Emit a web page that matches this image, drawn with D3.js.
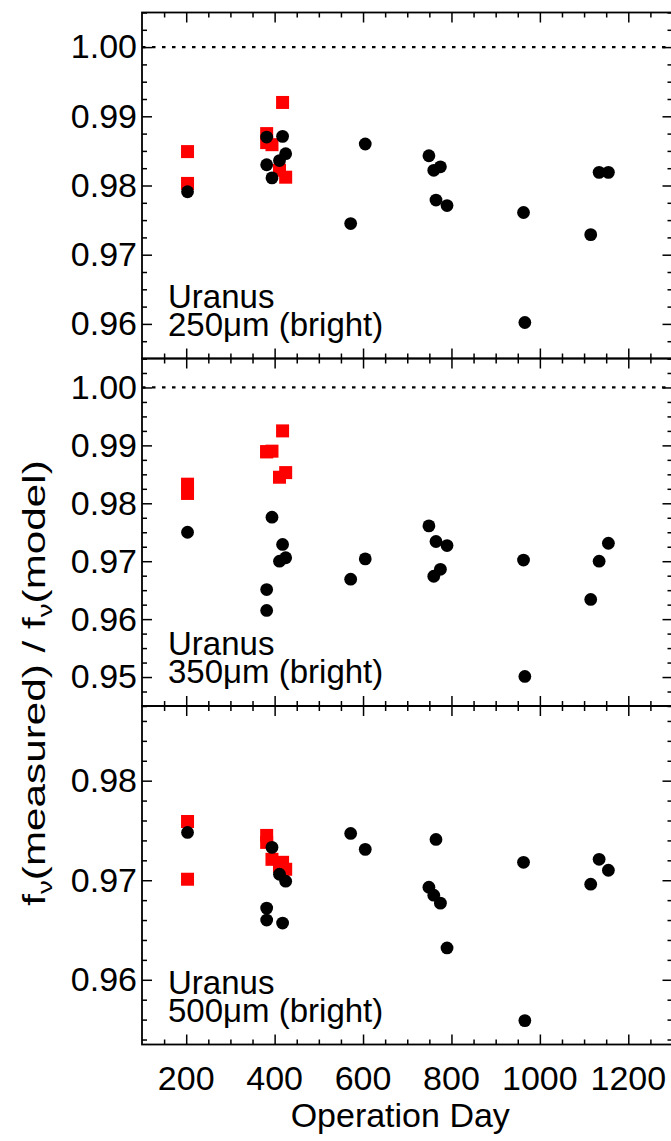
<!DOCTYPE html>
<html><head><meta charset="utf-8">
<script src="https://cdn.jsdelivr.net/npm/d3@7"></script>
<style>body{margin:0;background:#fff}svg{display:block}text{font-family:"Liberation Sans",Arial,sans-serif;fill:#000}</style>
</head><body>
<script>
// Operation days of the observations
const daysBlack = [203,382,382,394,411,418,425,572,605,749,760,765,775,790,963,966,1115,1134,1155];
const daysRed = [203,203,382,382,394,411,418,425];
// 250 micron
const black250 = [0.9791,0.9870,0.9830,0.9811,0.9836,0.9871,0.9846,0.9745,0.9860,0.9843,0.9822,0.9779,0.9827,0.9771,0.9761,0.9602,0.9729,0.9819,0.9819];
const red250 = [0.9849,0.9803,0.9875,0.9862,0.9859,0.9822,0.9920,0.9812];
// 350 micron
const black350 = [0.9750,0.9651,0.9615,0.9776,0.9700,0.9729,0.9706,0.9669,0.9704,0.9761,0.9674,0.9734,0.9686,0.9727,0.9702,0.9501,0.9634,0.9700,0.9731];
const red350 = [0.9833,0.9817,0.9889,0.9889,0.9890,0.9845,0.9925,0.9853];
// 500 micron
const black500 = [0.9748,0.9672,0.9660,0.9733,0.9706,0.9657,0.9699,0.9747,0.9731,0.9693,0.9685,0.9741,0.9677,0.9632,0.9718,0.9559,0.9696,0.9721,0.9710];
const red500 = [0.9759,0.9701,0.9745,0.9738,0.9721,0.9714,0.9718,0.9711];
// axes
const xDomain = [100,1300];
const xMajorTicks = [200,400,600,800,1000,1200];
const panelLabels = [["Uranus","250\u03bcm (bright)"],["Uranus","350\u03bcm (bright)"],["Uranus","500\u03bcm (bright)"]];
const yDomains = [[0.955,1.005],[0.945,1.005],[0.9535,0.9875]];
const yMajorTicks = [[0.96,0.97,0.98,0.99,1.00],[0.95,0.96,0.97,0.98,0.99,1.00],[0.96,0.97,0.98]];
const yMinorStep = [0.0025,0.0025,0.002];
const refLines = [1.0,1.0,null];

const W=671,H=1141;
const svg=d3.select("body").append("svg").attr("width",W).attr("height",H);
const left=142,right=672.5;
const panelTops=[12.5,358.5,706,1044.5];
const x=d3.scaleLinear().domain(xDomain).range([left,right]);
const xMinor=d3.range(150,1300,50).filter(d=>d%200!==0);

const blacks=[black250,black350,black500], reds=[red250,red350,red500];
const styleTicks=a=>{a.select(".domain").remove();a.selectAll("line").attr("stroke","#000").attr("stroke-width",1.5);};

for(let p=0;p<3;p++){
  const top=panelTops[p], bot=panelTops[p+1];
  const y=d3.scaleLinear().domain(yDomains[p]).range([bot,top]);
  const g=svg.append("g");
  const [y0,y1]=yDomains[p];
  const st=yMinorStep[p];
  const minor=[];
  for(let k=Math.ceil(y0/st-1e-6); k*st<=y1+1e-9; k++){
    const vv=+(k*st).toFixed(5);
    if(!yMajorTicks[p].some(m=>Math.abs(m-vv)<1e-6)) minor.push(vv);
  }
  // left axis
  const ga=g.append("g").attr("transform",`translate(${left},0)`)
    .call(d3.axisLeft(y).tickValues(yMajorTicks[p]).tickFormat(d3.format(".2f")).tickSizeInner(-10).tickSizeOuter(0).tickPadding(5));
  styleTicks(ga);
  ga.selectAll("text").attr("font-size",34).attr("font-family","Liberation Sans, Arial, sans-serif").attr("fill","#000");
  g.append("g").attr("transform",`translate(${left},0)`).call(d3.axisLeft(y).tickValues(minor).tickFormat("").tickSizeInner(-5).tickSizeOuter(0)).call(styleTicks);
  // right axis
  g.append("g").attr("transform",`translate(${right},0)`).call(d3.axisRight(y).tickValues(yMajorTicks[p]).tickFormat("").tickSizeInner(-10).tickSizeOuter(0)).call(styleTicks);
  g.append("g").attr("transform",`translate(${right},0)`).call(d3.axisRight(y).tickValues(minor).tickFormat("").tickSizeInner(-5).tickSizeOuter(0)).call(styleTicks);
  // top & bottom x ticks
  [[top,d3.axisTop],[bot,d3.axisBottom]].forEach(([yy,ax])=>{
    g.append("g").attr("transform",`translate(0,${yy})`).call(ax(x).tickValues(xMajorTicks).tickFormat("").tickSizeInner(-10).tickSizeOuter(0)).call(styleTicks);
    g.append("g").attr("transform",`translate(0,${yy})`).call(ax(x).tickValues(xMinor).tickFormat("").tickSizeInner(-5).tickSizeOuter(0)).call(styleTicks);
  });
  // frame
  g.append("rect").attr("x",left).attr("y",top).attr("width",right-left).attr("height",bot-top)
    .attr("fill","none").attr("stroke","#000").attr("stroke-width",1.8);
  // reference line
  if(refLines[p]!==null){
    g.append("line").attr("x1",left).attr("x2",right).attr("y1",y(refLines[p])).attr("y2",y(refLines[p]))
      .attr("stroke","#000").attr("stroke-width",2.2).attr("stroke-dasharray","3.5,6.5");
  }
  // red squares
  const s=13;
  g.selectAll("rect.red").data(reds[p]).enter().append("rect").attr("class","red")
    .attr("x",(d,i)=>x(daysRed[i])-s/2).attr("y",d=>y(d)-s/2).attr("width",s).attr("height",s).attr("fill","#ff0000");
  // black dots
  g.selectAll("circle").data(blacks[p]).enter().append("circle")
    .attr("cx",(d,i)=>x(daysBlack[i])).attr("cy",d=>y(d)).attr("r",6.4).attr("fill","#000");
  // label
  const t=g.append("text").attr("font-size",33);
  t.append("tspan").attr("x",168).attr("y",bot-51).text(panelLabels[p][0]);
  t.append("tspan").attr("x",168).attr("y",bot-23).text(panelLabels[p][1]);
}
// x tick labels
svg.append("g").selectAll("text").data(xMajorTicks).enter().append("text")
  .attr("x",d=>x(d)).attr("y",1090).attr("text-anchor","middle").attr("font-size",34).text(d=>d);
svg.append("text").attr("x",x(700)-7).attr("y",1127).attr("text-anchor","middle").attr("font-size",34).text("Operation Day");
// y title (stretched along its reading direction like the reference)
const yt=svg.append("text").attr("transform","translate(45,683) rotate(-90) scale(1.32,1)").attr("text-anchor","middle").attr("font-size",32);
yt.append("tspan").text("f");
yt.append("tspan").attr("font-size",21).attr("dy",7).text("\u03bd");
yt.append("tspan").attr("dy",-7).text("(measured) / f");
yt.append("tspan").attr("font-size",21).attr("dy",7).text("\u03bd");
yt.append("tspan").attr("dy",-7).text("(model)");
</script>
</body></html>
